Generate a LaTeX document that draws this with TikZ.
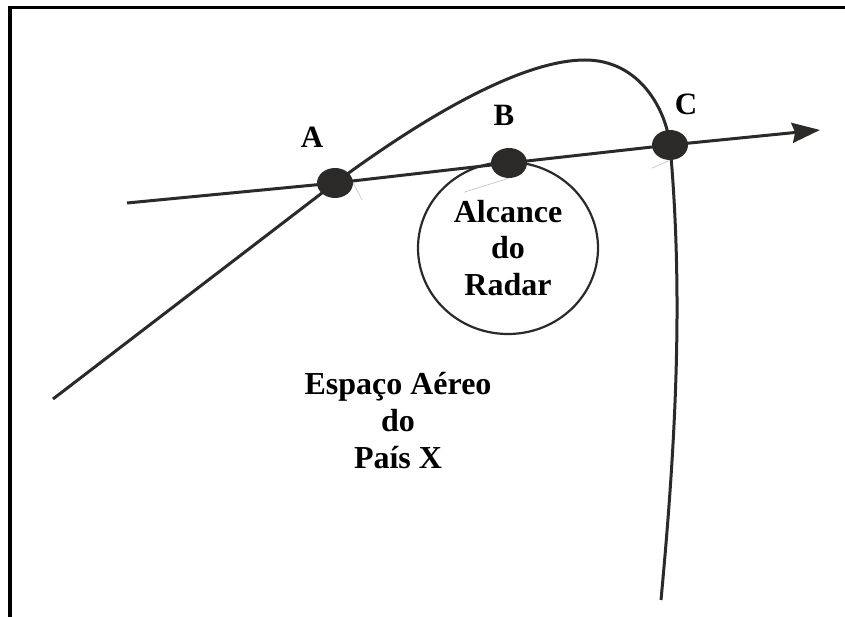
\documentclass[tikz,border=0pt]{standalone}
\usepackage{fontspec}
\setmainfont{Liberation Serif}
\usetikzlibrary{arrows.meta,shapes.geometric}
\definecolor{Ink}{HTML}{2B2A29}

\begin{document}
\begin{tikzpicture}[x=1pt,y=-1pt]
\useasboundingbox (0,0) rectangle (845,617);
\draw[black,line width=3.5pt] (10,617) -- (10,7.7) -- (845,7.7);
\node[ellipse,draw=Ink,line width=2.2pt,minimum width=180pt,minimum height=172pt,inner sep=0pt,align=center,font=\bfseries\fontsize{32}{36.5}\selectfont] (radar) at (508,248) {Alcance\\do\\Radar};
\foreach \n/\x/\y in {A/335/183,B/509/163,C/670/145} {\node[ellipse,fill=Ink,minimum width=36pt,minimum height=30pt,inner sep=0pt] (\n) at (\x,\y) {};}
\foreach \n/\x/\y in {A/312/148,B/504/126,C/686/115} {\node[anchor=base,font=\bfseries\fontsize{31}{36}\selectfont] (lbl\n) at (\x,\y) {\n};}
\coordinate (start) at (127,203);
\coordinate (tip) at (820,130);
\draw[Ink,line width=3pt,-{Stealth[length=28pt,width=20pt,inset=3pt]}] (start) -- (A.center) -- (B.center) -- (C.center) -- (tip);
\coordinate (west) at (53,399);
\coordinate (south) at (661,600);
\draw[Ink,line width=3pt] (west) -- (A.center) .. controls (420,120) and (520,60) .. (585,60) .. controls (640,60) and (666,110) .. (C.center) .. controls (684,300) and (675,450) .. (south);
% faint marks left under the dots
\draw[gray!45,line width=0.7pt] (A.east) -- ++(9,17);
\draw[gray!45,line width=0.7pt] (B.south) -- ++(-45,14);
\draw[gray!45,line width=0.7pt] (C.south) -- ++(-18,8);
\node[align=center,font=\bfseries\fontsize{32}{37}\selectfont] (espaco) at (398,421) {Espaço Aéreo\\do\\País X};
\end{tikzpicture}
\end{document}
